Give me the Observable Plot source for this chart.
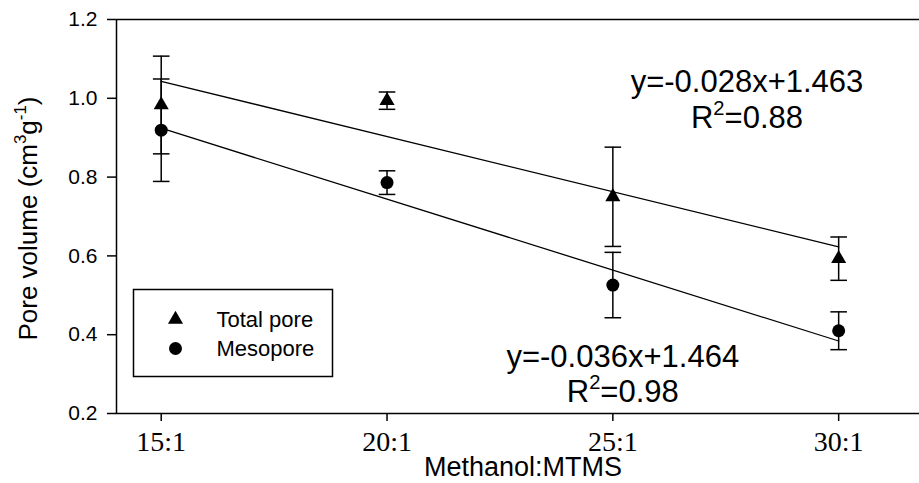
<!DOCTYPE html>
<html><head><meta charset="utf-8">
<script src="https://cdn.jsdelivr.net/npm/d3@7"></script>
<script src="https://cdn.jsdelivr.net/npm/@observablehq/plot@0.6"></script>
<style>body{margin:0;background:#fff} svg{display:block}</style>
</head><body><div id="chart"></div>
<script>
// ---- data ----
const ratios = [15, 20, 25, 30];
const ratioLabels = ["15:1", "20:1", "25:1", "30:1"];
const totalPore = [0.983, 0.994, 0.750, 0.593];
const totalPoreErr = [0.124, 0.022, 0.126, 0.055];
const mesopore = [0.919, 0.786, 0.526, 0.410];
const mesoporeErr = [0.130, 0.030, 0.083, 0.048];
const yTicks = [0.2, 0.4, 0.6, 0.8, 1.0, 1.2];
const xDomain = [14.01, 31.79];
const yDomain = [0.2, 1.2];
const seriesNames = ["Total pore", "Mesopore"];
const fitSlopes = [-0.028, -0.036];
const fitIntercepts = [1.463, 1.464];
const fitLabels = ["y=-0.028x+1.463", "y=-0.036x+1.464"];
const r2Labels = ["R²=0.88", "R²=0.98"];
const labelX = [27.97, 25.22];
const eqLabelY = [1.040, 0.343];
const r2LabelY = [0.949, 0.254];
const xTitle = "Methanol:MTMS";
const yTitle = "Pore volume (cm³g⁻¹)";

// ---- tables ----
const rows = ratios.flatMap((r, i) => [
  {ratio: r, series: seriesNames[0], value: totalPore[i], err: totalPoreErr[i]},
  {ratio: r, series: seriesNames[1], value: mesopore[i], err: mesoporeErr[i]}
]);
const fitRows = seriesNames.flatMap((s, k) =>
  [ratios[0], ratios[ratios.length - 1]].map(r => ({series: s, ratio: r, value: fitSlopes[k] * r + fitIntercepts[k]}))
);
const annos = seriesNames.flatMap((s, k) => [
  {x: labelX[k], y: eqLabelY[k], text: fitLabels[k]},
  {x: labelX[k], y: r2LabelY[k], text: r2Labels[k]}
]);

const SANS = "'Liberation Sans', Arial, Helvetica, sans-serif";
const SERIF = "'Liberation Serif', 'Times New Roman', serif";
const capSymbol = {draw(ctx, size) { const w = Math.sqrt(size / Math.PI); ctx.moveTo(-w, 0); ctx.lineTo(w, 0); }};
const symbols = ["triangle", "circle"];
const symbolR = [5.6, 6.5];

const legendMarks = seriesNames.flatMap((s, k) => [
  Plot.dot([s], {frameAnchor: "bottom-left", dx: 59, dy: -94 + k * 29, symbol: symbols[k], r: symbolR[k], fill: "black"}),
  Plot.text([s], {frameAnchor: "bottom-left", dx: 100, dy: -94 + k * 29, textAnchor: "start", lineAnchor: "middle", fontSize: 22, fontFamily: SANS, fill: "black"})
]);

const svg = Plot.plot({
  width: 919, height: 483,
  marginLeft: 116, marginRight: 0, marginTop: 19, marginBottom: 70,
  style: {fontFamily: SANS, color: "black", background: "white"},
  x: {domain: xDomain},
  y: {domain: yDomain},
  marks: [
    Plot.ruleY([yDomain[1]], {stroke: "black", strokeWidth: 1.5}),
    Plot.ruleX([xDomain[0]], {stroke: "black", strokeWidth: 1.5}),
    Plot.ruleY([yDomain[0]], {stroke: "black", strokeWidth: 1.5}),
    Plot.axisY({ticks: yTicks, tickFormat: d => d.toFixed(1), tickSize: 9, tickPadding: 10, fontSize: 21, fontFamily: SANS, strokeWidth: 1.5, label: null}),
    Plot.axisX({ticks: ratios, tickFormat: d => ratioLabels[ratios.indexOf(d)], tickSize: 8, tickPadding: 10, fontSize: 28, fontFamily: SERIF, strokeWidth: 1.5, label: null}),
    Plot.text([xTitle], {frameAnchor: "bottom", dx: 5, dy: 54, lineAnchor: "middle", textAnchor: "middle", fontSize: 27, fontFamily: SANS, fill: "black"}),
    Plot.text([yTitle], {frameAnchor: "left", dx: -88, dy: 2, rotate: -90, lineAnchor: "middle", textAnchor: "middle", fontSize: 26, fontFamily: SANS, fill: "black"}),
    Plot.ruleX(rows, {x: "ratio", y1: d => d.value - d.err, y2: d => d.value + d.err, stroke: "black", strokeWidth: 1.5}),
    Plot.dot(rows, {x: "ratio", y: d => d.value + d.err, symbol: capSymbol, r: 8.3, stroke: "black", strokeWidth: 1.5, fill: "none"}),
    Plot.dot(rows, {x: "ratio", y: d => d.value - d.err, symbol: capSymbol, r: 8.3, stroke: "black", strokeWidth: 1.5, fill: "none"}),
    Plot.line(fitRows, {x: "ratio", y: "value", z: "series", stroke: "black", strokeWidth: 1.3}),
    ...seriesNames.map((s, k) => Plot.dot(rows.filter(d => d.series === s), {x: "ratio", y: "value", symbol: symbols[k], r: symbolR[k], fill: "black", stroke: "none"})),
    Plot.text(annos, {x: "x", y: "y", text: "text", fontSize: 31, fontFamily: SANS, fill: "black"}),
    Plot.frame({insetLeft: 17, insetRight: 587, insetTop: 270, insetBottom: 37, stroke: "black", strokeWidth: 1.5}),
    ...legendMarks
  ]
});
document.getElementById("chart").appendChild(svg);

// turn unicode superscripts into raised tspans (text stays real text)
const supMap = {"²": "2", "³": "3", "⁻": "-", "¹": "1"};
svg.querySelectorAll("text").forEach(t => {
  if (t.children.length) return;
  const s = t.textContent;
  if (!/[²³⁻¹]/.test(s)) return;
  const fs = parseFloat(getComputedStyle(t).fontSize) || 20;
  const runs = [];
  for (const ch of s) {
    const sup = ch in supMap;
    const c = sup ? supMap[ch] : ch;
    if (runs.length && runs[runs.length - 1].sup === sup) runs[runs.length - 1].s += c;
    else runs.push({sup, s: c});
  }
  t.textContent = "";
  let raised = false;
  for (const r of runs) {
    const ts = document.createElementNS("http://www.w3.org/2000/svg", "tspan");
    ts.textContent = r.s;
    if (r.sup) { ts.setAttribute("font-size", (fs * 0.65).toFixed(1)); ts.setAttribute("dy", (-fs * 0.42).toFixed(1)); raised = true; }
    else if (raised) { ts.setAttribute("dy", (fs * 0.42).toFixed(1)); raised = false; }
    t.appendChild(ts);
  }
});
</script>
</body></html>
